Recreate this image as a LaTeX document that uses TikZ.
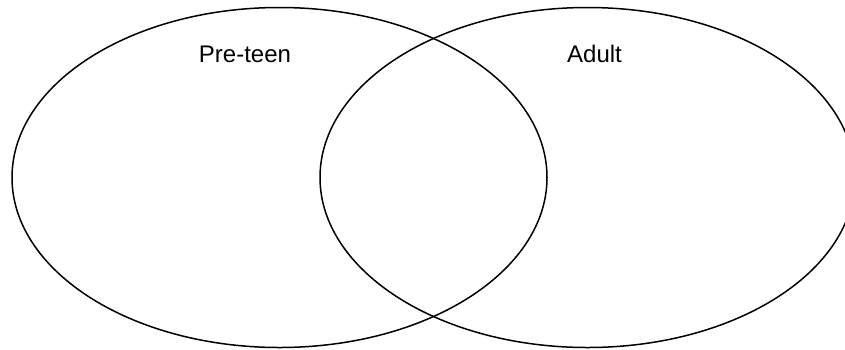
\documentclass[tikz,border=0pt]{standalone}
\usepackage{fontspec}
\setmainfont{Liberation Sans}
\begin{document}
\begin{tikzpicture}[x=1pt,y=-1pt,
  setshape/.style={draw=black,line width=1.5pt,ellipse},
  setlabel/.style={anchor=base,inner sep=0pt,font=\fontsize{24}{28}\selectfont}]
\useasboundingbox (0,0) rectangle (845,349);
\begin{scope}
\clip (0,0) rectangle (845,349);
\draw[line width=1.5pt] (279.5,177.5) ellipse [x radius=267.5, y radius=170];
\draw[line width=1.5pt] (587.5,177.5) ellipse [x radius=267.5, y radius=170];
\end{scope}
\node[setlabel] (pre) at (245,62) {Pre-teen};
\node[setlabel] (adult) at (594.5,62) {Adult};
\end{tikzpicture}
\end{document}
